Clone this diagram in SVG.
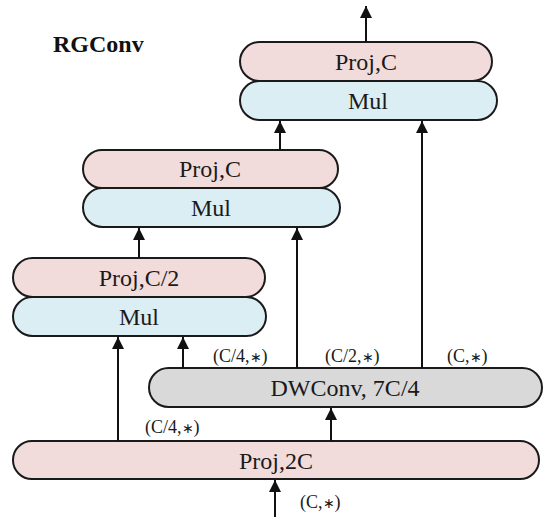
<svg xmlns="http://www.w3.org/2000/svg" width="550" height="524" viewBox="0 0 550 524">
<style>
  .pill { stroke: #1a1a1a; stroke-width: 2; }
  .proj { fill: #f2dcdb; }
  .mul { fill: #dbeef4; }
  .dw { fill: #d9d9d9; }
  .lbl { font-family: "Liberation Serif", "Times New Roman", serif; font-size: 24px; fill: #1a1a1a; text-anchor: middle; dominant-baseline: central; }
  .dim { font-family: "Liberation Serif", "Times New Roman", serif; font-size: 18px; fill: #1a1a1a; }
  .ast { font-size: 14px; }
  .title { font-family: "Liberation Serif", "Times New Roman", serif; font-size: 24px; font-weight: bold; fill: #111; }
  .conn line { stroke: #111; stroke-width: 2; fill: none; }
</style>
<defs>
  <marker id="ah" viewBox="0 0 10 12" refX="12" refY="6" markerWidth="10" markerHeight="12" markerUnits="userSpaceOnUse" orient="auto">
    <path d="M0,0 L12,6 L0,12 Z" fill="#111"/>
  </marker>
</defs>
<rect width="550" height="524" fill="#ffffff"/>
<text class="title" x="53" y="52">RGConv</text>

<g id="top-mul"><rect class="pill mul" x="240" y="81" width="257" height="39" rx="19.5"/><text class="lbl" x="368" y="101">Mul</text></g>
<g id="top-proj"><rect class="pill proj" x="240" y="42" width="252" height="39" rx="19.5"/><text class="lbl" x="366" y="62">Proj,C</text></g>

<g id="mid-mul"><rect class="pill mul" x="83" y="188" width="257" height="39" rx="19.5"/><text class="lbl" x="211" y="208">Mul</text></g>
<g id="mid-proj"><rect class="pill proj" x="83" y="150" width="255" height="38" rx="19"/><text class="lbl" x="210" y="169">Proj,C</text></g>

<g id="low-mul"><rect class="pill mul" x="13" y="297" width="253" height="39" rx="19.5"/><text class="lbl" x="139" y="317">Mul</text></g>
<g id="low-proj"><rect class="pill proj" x="13" y="258" width="252" height="39" rx="19.5"/><text class="lbl" x="139" y="278">Proj,C/2</text></g>

<g id="dwconv"><rect class="pill dw" x="149" y="368" width="393" height="39" rx="19.5"/><text class="lbl" x="345" y="388">DWConv, 7C/4</text></g>

<g id="proj2c"><rect class="pill proj" x="13" y="441" width="526" height="38" rx="19"/><text class="lbl" x="276" y="461">Proj,2C</text></g>

<g class="conn" id="connectors">
  <line x1="366" y1="42" x2="366" y2="6" marker-end="url(#ah)"/>
  <line x1="280" y1="150" x2="280" y2="121" marker-end="url(#ah)"/>
  <line x1="422" y1="368" x2="422" y2="121" marker-end="url(#ah)"/>
  <line x1="139" y1="258" x2="139" y2="228" marker-end="url(#ah)"/>
  <line x1="297" y1="368" x2="297" y2="228" marker-end="url(#ah)"/>
  <line x1="118" y1="441" x2="118" y2="337" marker-end="url(#ah)"/>
  <line x1="183" y1="368" x2="183" y2="337" marker-end="url(#ah)"/>
  <line x1="331" y1="441" x2="331" y2="408" marker-end="url(#ah)"/>
  <line x1="275" y1="517" x2="275" y2="480" marker-end="url(#ah)"/>
</g>

<g id="labels">
  <text class="dim" x="213" y="362">(C/4,<tspan class="ast">∗</tspan>)</text>
  <text class="dim" x="325" y="362">(C/2,<tspan class="ast">∗</tspan>)</text>
  <text class="dim" x="447" y="362">(C,<tspan class="ast">∗</tspan>)</text>
  <text class="dim" x="145" y="433">(C/4,<tspan class="ast">∗</tspan>)</text>
  <text class="dim" x="300" y="508">(C,<tspan class="ast">∗</tspan>)</text>
</g>
</svg>
